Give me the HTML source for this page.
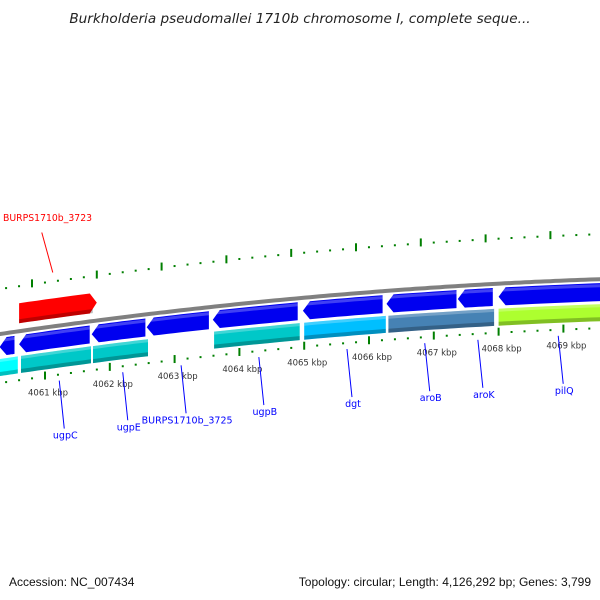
<!DOCTYPE html>
<html><head><meta charset="utf-8"><style>
body{margin:0;background:#fff}
svg{display:block;font-family:"DejaVu Sans","Liberation Sans",sans-serif}
</style></head><body>
<svg id="map" width="600" height="600" viewBox="0 0 600 600" xmlns="http://www.w3.org/2000/svg">
<text x="300" y="23" text-anchor="middle" font-size="13.6" font-style="italic" fill="#222">Burkholderia pseudomallei 1710b chromosome I, complete seque...</text>
<g id="ticks"></g>
<path id="backbone" fill="none" stroke="#808080" stroke-width="4"/>
<g id="genes"></g>
<g id="labels"></g>
<text x="9" y="586" font-size="12" font-family="Liberation Sans, sans-serif" fill="#111">Accession: NC_007434</text>
<text x="591" y="586" text-anchor="end" font-size="12" font-family="Liberation Sans, sans-serif" fill="#111">Topology: circular; Length: 4,126,292 bp; Genes: 3,799</text>
</svg>
<script>
// data (kbp positions)
const kbpTicks=[4060,4061,4062,4063,4064,4065,4066,4067,4068,4069,4070];
const fwdGenes=[[4060.6,4061.8]];
const fwdColors=["#ff0000"];
const revGenes=[[4060.3,4060.53],[4060.6,4061.69],[4061.72,4062.55],[4062.57,4063.53],[4063.59,4064.9],[4064.98,4066.21],[4066.27,4067.35],[4067.37,4067.91],[4068.0,4069.9]];
const featGenes=[[4060.3,4060.58],[4060.63,4061.71],[4061.74,4062.59],[4063.61,4064.93],[4065.0,4066.26],[4066.3,4067.93],[4068.0,4069.9]];
const featColors=["#00ffff","#00c8c8","#00c8c8","#00c8c8","#00bfff","#4682b4","#adff2f"];
const labelNames=["BURPS1710b_3723","ugpC","ugpE","BURPS1710b_3725","ugpB","dgt","aroB","aroK","pilQ"];
const labelPos=[4061.12,4061.22,4062.2,4063.1,4064.3,4065.66,4066.86,4067.68,4068.92];
const labelColors=["#ff0000","#0000ff","#0000ff","#0000ff","#0000ff","#0000ff","#0000ff","#0000ff","#0000ff"];

const NS="http://www.w3.org/2000/svg";
const X=k=>45+(k-4061)*64.8;
const F=x=>334-0.148*x+9.44e-5*x*x;
function mk(t,a,p){const e=document.createElementNS(NS,t);for(const k in a)e.setAttribute(k,a[k]);p.appendChild(e);return e;}
function band(x1,x2,o1,o2,arrow){
  const pts=[];const n=8,tip=7;
  let a=x1,b=x2;
  if(arrow===1)b=x2-tip; if(arrow===-1)a=x1+tip;
  for(let i=0;i<=n;i++){const x=a+(b-a)*i/n;pts.push([x,F(x)+o1]);}
  if(arrow===1)pts.push([x2,F(x2)+(o1+o2)/2]);
  for(let i=n;i>=0;i--){const x=a+(b-a)*i/n;pts.push([x,F(x)+o2]);}
  if(arrow===-1)pts.push([x1,F(x1)+(o1+o2)/2]);
  return pts.map(p=>p[0].toFixed(1)+","+p[1].toFixed(1)).join(" ");
}
let d="";for(let x=-5;x<=605;x+=5)d+=(x<0?"M":"L")+x+","+F(x).toFixed(1);
document.getElementById("backbone").setAttribute("d",d);
const tg=document.getElementById("ticks");
for(let i=0;i<kbpTicks.length-1;i++){
  for(let j=0;j<5;j++){
    const x=X(kbpTicks[i]+j*0.2);
    const big=j===0;
    const b=mk("line",{x1:x,x2:x,y1:F(x)+(big?44:48),y2:F(x)+(big?52:50),stroke:"#007f00","stroke-width":2},tg);
    
    
    const xt=x-13;
    const t=mk("line",{x1:xt,x2:xt,y1:F(xt)-(big?50:46),y2:F(xt)-(big?42:44),stroke:"#007f00","stroke-width":2},tg);
    
    
  }
  const x=X(kbpTicks[i]);
  if(x>20&&x<590){
    const l=mk("text",{x:x-17,y:F(x)+68,"font-size":"8.5",fill:"#333"},tg);
    l.textContent=kbpTicks[i]+" kbp";
    
    
  }
}
const gg=document.getElementById("genes");
fwdGenes.forEach((g,i)=>{
  const p=mk("polygon",{points:band(X(g[0]),X(g[1]),-28,-8,1),fill:fwdColors[i]},gg);
  
  
  mk("polygon",{points:band(X(g[0]),X(g[1])-4,-12,-8,0),fill:"#000",opacity:"0.25"},gg);
});
revGenes.forEach(g=>{
  const p=mk("polygon",{points:band(X(g[0]),X(g[1]),4,22,-1),fill:"#0000f0"},gg);
  
  
  mk("polygon",{points:band(X(g[0])+4,X(g[1]),5,8,0),fill:"#fff",opacity:"0.25"},gg);
});
featGenes.forEach((g,i)=>{
  const p=mk("polygon",{points:band(X(g[0]),X(g[1]),25,42,0),fill:featColors[i]},gg);
  
  
  mk("polygon",{points:band(X(g[0]),X(g[1]),38,42,0),fill:"#000",opacity:"0.25"},gg);
  mk("polygon",{points:band(X(g[0]),X(g[1]),25,28,0),fill:"#fff",opacity:"0.25"},gg);
});
const lg=document.getElementById("labels");
labelNames.forEach((n,i)=>{
  const x=X(labelPos[i]);
  const f=F(x);
  let l,t;
  if(i===0){
    l=mk("line",{x1:x,y1:f-54,x2:x-11,y2:f-94,stroke:labelColors[i],"stroke-width":1},lg);
    t=mk("text",{x:3,y:221,"font-size":"9.3",fill:labelColors[i]},lg);
  }else{
    l=mk("line",{x1:x,y1:f+55,x2:x+5,y2:f+103,stroke:labelColors[i],"stroke-width":1},lg);
    t=mk("text",{x:x+6,y:f+113,"font-size":"9.5",fill:labelColors[i],"text-anchor":"middle"},lg);
  }
  
  
  t.textContent=n;
  
  
});
</script>
</body></html>
